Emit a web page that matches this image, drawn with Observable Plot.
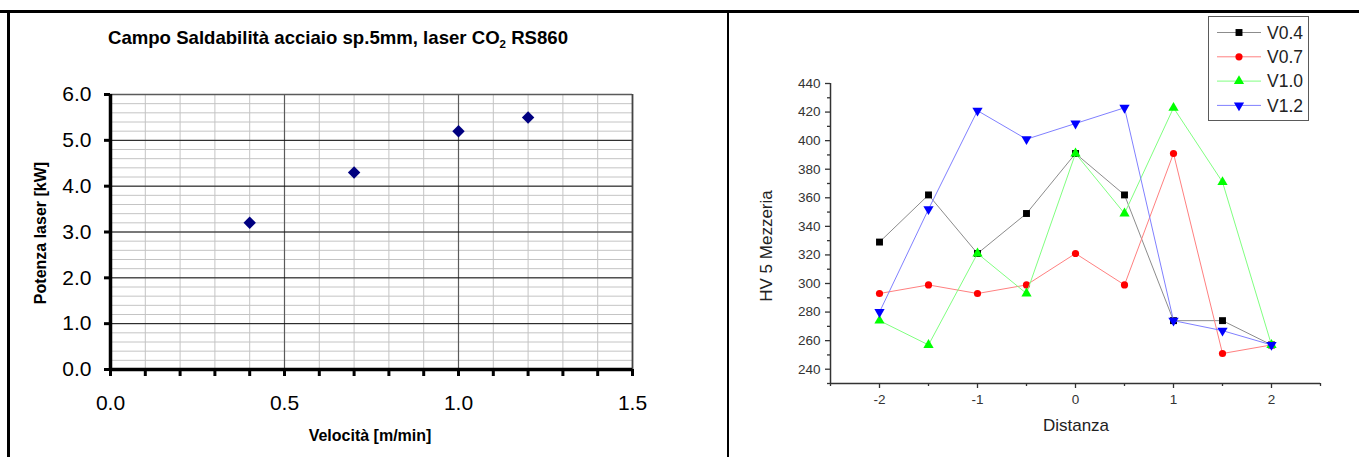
<!DOCTYPE html>
<html><head><meta charset="utf-8">
<script src="https://cdn.jsdelivr.net/npm/d3@7"></script>
<script src="https://cdn.jsdelivr.net/npm/@observablehq/plot@0.6"></script>
<style>
body{margin:0;background:#fff;}
#page{position:relative;width:1359px;height:457px;overflow:hidden;font-family:"Liberation Sans",Arial,sans-serif;background:#fff;}
.abs{position:absolute;}
.txt{position:absolute;white-space:nowrap;line-height:1;}
</style></head><body><div id="page"></div>
<script>
// ---------- LEFT CHART DATA ----------
const velocita = [0.4, 0.7, 1.0, 1.2];          // m/min
const potenza  = [3.2, 4.3, 5.2, 5.5];          // kW
const leftXTicks = [0, 0.5, 1.0, 1.5];
const leftYTicks = [0, 1, 2, 3, 4, 5, 6];
const leftTitle = "Campo Saldabilità acciaio sp.5mm, laser CO";
const leftTitleSub = "2";
const leftTitleEnd = " RS860";
const leftXLabel = "Velocità [m/min]";
const leftYLabel = "Potenza laser [kW]";

// ---------- RIGHT CHART DATA ----------
const distanza = [-2, -1.5, -1, -0.5, 0, 0.5, 1, 1.5, 2];
const seriesNames = ["V0.4", "V0.7", "V1.0", "V1.2"];
const hvV04 = [329, 362, 321, 349, 391, 362, 274, 274, 257];
const hvV07 = [293, 299, 293, 299, 321, 299, 391, 251, 257];
const hvV10 = [274, 257, 321, 293, 391, 349, 423, 371, 257];
const hvV12 = [280, 352, 421, 401, 412, 423, 274, 267, 257];
const rightXTicks = [-2, -1, 0, 1, 2];
const rightXMinor = [-2.5, -1.5, -0.5, 0.5, 1.5, 2.5];
const rightYTicks = [240, 260, 280, 300, 320, 340, 360, 380, 400, 420, 440];
const rightYMinor = [230, 250, 270, 290, 310, 330, 350, 370, 390, 410, 430];
const rightXLabel = "Distanza";
const rightYLabel = "HV 5 Mezzeria";

// styles
const lineColors = ["#8c8c8c", "#ff8080", "#80ff80", "#8080ff"];
const markColors = ["#000000", "#ff0000", "#00ff00", "#0000ff"];
const markSymbols = ["square", "circle", "triangle", "triangle"];
const markRotate = [0, 0, 0, 180];
const markR = [3.9, 3.6, 3.8, 3.8];

const page = document.getElementById("page");
const FONT = "Liberation Sans, Arial, sans-serif";

function box(l, t, w, h, bg) {
  const d = document.createElement("div");
  d.className = "abs";
  Object.assign(d.style, {left: l + "px", top: t + "px", width: w + "px", height: h + "px", background: bg});
  page.appendChild(d);
}
// table borders
box(0, 10, 1359, 3, "#000");
box(7, 10, 3, 447, "#000");
box(727, 10, 2, 447, "#000");

function text(html, cx, baseline, size, weight, rotate, color) {
  const d = document.createElement("div");
  d.className = "txt";
  d.innerHTML = html;
  d.style.fontSize = size + "px";
  d.style.fontWeight = weight;
  d.style.color = color || "#000";
  if (!rotate) {
    d.style.left = cx + "px";
    d.style.top = (baseline - 0.8465 * size) + "px";
    d.style.transform = "translateX(-50%)";
  } else {
    const centerX = cx - 0.3465 * size;
    d.style.left = centerX + "px";
    d.style.top = baseline + "px";
    d.style.transform = "translate(-50%,-50%) rotate(-90deg)";
  }
  page.appendChild(d);
  return d;
}

// ---------- LEFT PLOT ----------
const leftPts = velocita.map((v, i) => ({x: v, y: potenza[i]}));
const minorX = d3.range(0, 1.5001, 0.1);
const minorY = d3.range(0, 6.0001, 0.2);
const left = Plot.plot({
  width: 717, height: 444,
  marginLeft: 100, marginRight: 95, marginTop: 81, marginBottom: 88,
  x: {domain: [0, 1.5]}, y: {domain: [0, 6]},
  style: {fontFamily: FONT, background: "transparent", color: "#000", overflow: "visible"},
  marks: [
    Plot.ruleY(minorY, {stroke: "#c4c4c4", strokeWidth: 1}),
    Plot.ruleX(minorX, {stroke: "#c4c4c4", strokeWidth: 1}),
    Plot.ruleX([0.5, 1.0], {stroke: "#5a5a5a", strokeWidth: 1.2}),
    Plot.ruleY([1, 2, 3, 4, 5], {stroke: "#111", strokeWidth: 1}),
    Plot.ruleY([6], {stroke: "#5a5a5a", strokeWidth: 1.5}),
    Plot.ruleX([1.5], {stroke: "#444", strokeWidth: 1.8}),
    Plot.ruleX([0], {stroke: "#000", strokeWidth: 3.5}),
    Plot.ruleY([0], {stroke: "#000", strokeWidth: 3.5}),
    Plot.axisY({ticks: leftYTicks, tickSize: 6, tickPadding: 13, tickFormat: d => d.toFixed(1), fontSize: 21, strokeWidth: 3, label: null}),
    Plot.axisX({ticks: minorX, tickSize: 7, tickFormat: () => "", strokeWidth: 3, label: null}),
    Plot.axisX({ticks: leftXTicks, tickSize: 0, tickPadding: 26, tickFormat: d => d.toFixed(1), fontSize: 21, label: null}),
    Plot.dot(leftPts, {x: "x", y: "y", symbol: "diamond2", r: 5.6, fill: "#000080", stroke: "none"})
  ]
});
left.style.position = "absolute";
left.style.left = "10px";
left.style.top = "13px";
page.appendChild(left);

text(leftTitle + '<span style="font-size:11.5px;position:relative;top:4px">' + leftTitleSub + '</span>' + leftTitleEnd, 338, 44.5, 18.6, "bold");
text(leftXLabel, 370, 441.5, 16, "bold");
text(leftYLabel, 47, 232.5, 16, "bold", true);

// ---------- RIGHT PLOT ----------
const hvSeries = [hvV04, hvV07, hvV10, hvV12];
const rows = [];
hvSeries.forEach((vals, s) => vals.forEach((v, i) => rows.push({series: seriesNames[s], s, x: distanza[i], y: v})));

const seriesMarks = [];
seriesNames.forEach((name, s) => {
  const data = rows.filter(r => r.s === s);
  seriesMarks.push(Plot.line(data, {x: "x", y: "y", stroke: lineColors[s], strokeWidth: 1}));
  seriesMarks.push(Plot.dot(data, {x: "x", y: "y", symbol: markSymbols[s], r: markR[s], fill: markColors[s], stroke: "none", rotate: markRotate[s]}));
});

const right = Plot.plot({
  width: 630, height: 444,
  marginLeft: 101, marginRight: 39, marginTop: 70, marginBottom: 74,
  x: {domain: [-2.5, 2.5]}, y: {domain: [230, 440]},
  style: {fontFamily: FONT, background: "transparent", color: "#333", overflow: "visible"},
  marks: [
    Plot.ruleX([-2.5], {stroke: "#333", strokeWidth: 1.5}),
    Plot.ruleY([230], {stroke: "#333", strokeWidth: 1.5}),
    Plot.axisY({ticks: rightYTicks, tickSize: 5, tickPadding: 5, fontSize: 13.5, strokeWidth: 1.3, tickFormat: d => String(d), label: null}),
    Plot.axisY({ticks: rightYMinor, tickSize: 3, strokeWidth: 1.3, tickFormat: () => "", label: null}),
    Plot.axisX({ticks: rightXTicks, tickSize: 5, tickPadding: 6, fontSize: 13.5, strokeWidth: 1.3, tickFormat: d => String(d), label: null}),
    Plot.axisX({ticks: rightXMinor, tickSize: 3, strokeWidth: 1.3, tickFormat: () => "", label: null}),
    ...seriesMarks
  ]
});
right.style.position = "absolute";
right.style.left = "729px";
right.style.top = "13px";
page.appendChild(right);

text(rightXLabel, 1076, 431, 17, "normal", false, "#222");
text(rightYLabel, 772, 246, 17, "normal", true, "#222");

// ---------- LEGEND ----------
const lg = document.createElement("div");
lg.className = "abs";
Object.assign(lg.style, {left: "1208px", top: "16px", width: "99px", height: "103px", border: "1.5px solid #5a5a5a", background: "#fff"});
page.appendChild(lg);
const lsvg = d3.select(lg).append("svg").attr("width", 99).attr("height", 103).style("position", "absolute").style("left", 0).style("top", 0);
const symMap = {square: d3.symbolSquare, circle: d3.symbolCircle, triangle: d3.symbolTriangle};
seriesNames.forEach((name, s) => {
  const cy = 15.5 + s * 24.3;
  lsvg.append("line").attr("x1", 8).attr("x2", 52).attr("y1", cy).attr("y2", cy).attr("stroke", lineColors[s]).attr("stroke-width", 1);
  lsvg.append("path")
    .attr("d", d3.symbol(symMap[markSymbols[s]], Math.PI * markR[s] * markR[s])())
    .attr("transform", `translate(30,${cy}) rotate(${markRotate[s]})`)
    .attr("fill", markColors[s]);
  lsvg.append("text").attr("x", 58).attr("y", cy + 6.2).attr("font-size", 17.5).attr("font-family", FONT).attr("fill", "#222").text(name);
});
</script>
</body></html>
